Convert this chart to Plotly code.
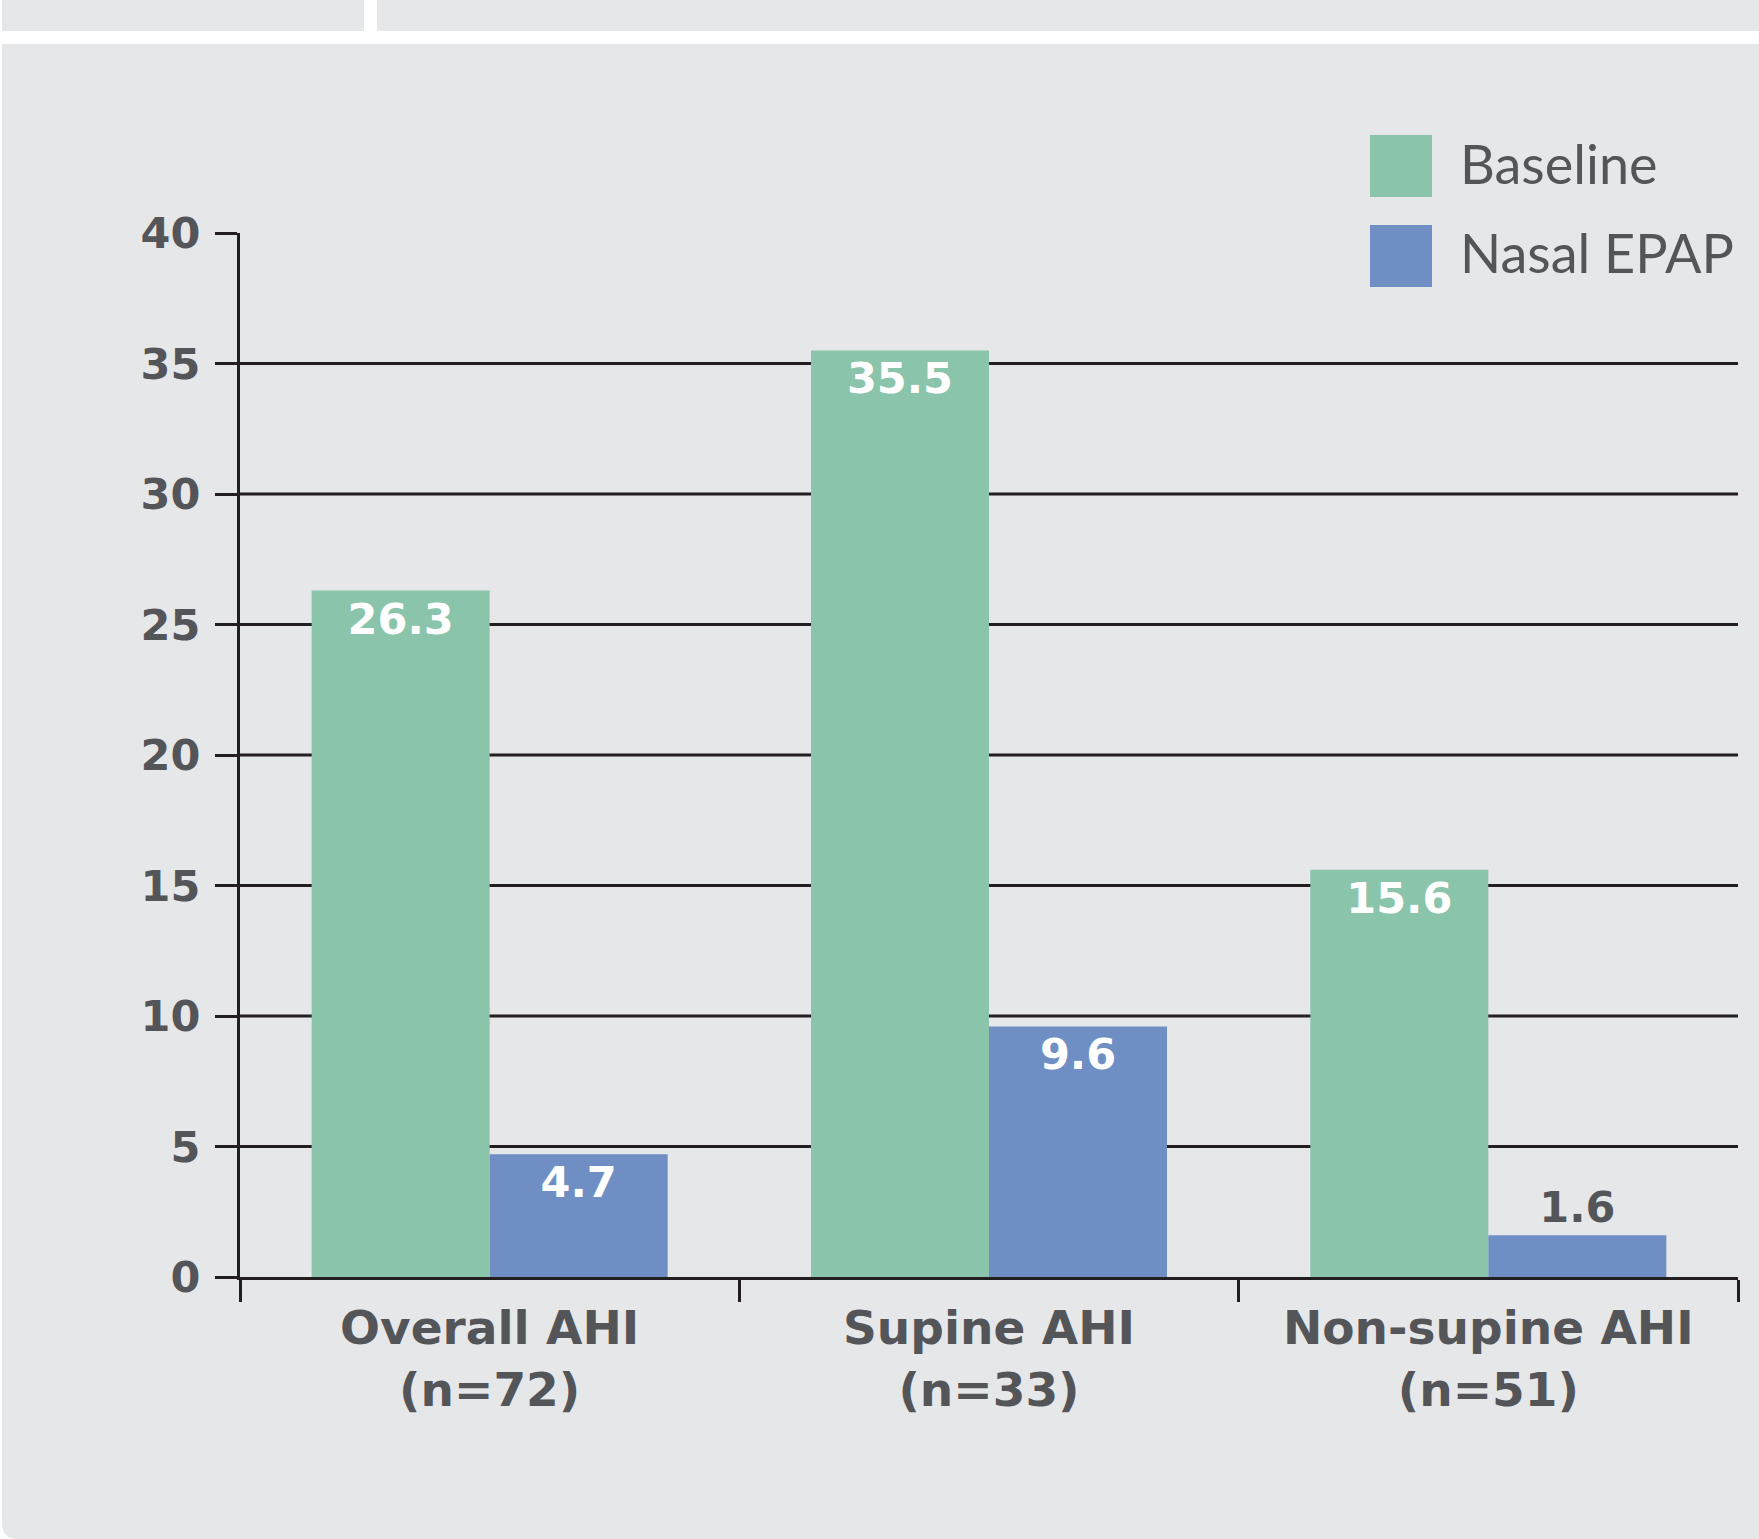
import plotly.graph_objects as go

# ---- data ----
categories = ["Overall AHI<br>(n=72)", "Supine AHI<br>(n=33)", "Non-supine AHI<br>(n=51)"]
baseline = [26.3, 35.5, 15.6]
nasal_epap = [4.7, 9.6, 1.6]
series_names = ["Baseline", "Nasal EPAP"]
y_ticks = [0, 5, 10, 15, 20, 25, 30, 35, 40]

# ---- style ----
W, H = 1759, 1539
GREEN = "#8AC4AB"
BLUE = "#6F8FC4"
PANEL = "#E6E7E9"
TEXT = "#545559"
INK = "#231F20"
BOLD = "DejaVu Sans"
LIGHT = "Lato"


def px(x):
    return x / W


def py(y):
    return 1 - y / H


fig = go.Figure()

label_font_in = dict(family=BOLD, size=43, color="white", weight="bold")
label_font_out = dict(family=BOLD, size=43, color=TEXT, weight="bold")

fig.add_trace(go.Bar(
    x=categories, y=baseline, name=series_names[0],
    marker=dict(color=GREEN, line=dict(width=0)),
    text=[f"{v:.1f}" for v in baseline],
    textposition="inside", insidetextanchor="end", textangle=0,
    insidetextfont=label_font_in, outsidetextfont=label_font_out,
    constraintext="none", cliponaxis=False, showlegend=False,
))
fig.add_trace(go.Bar(
    x=categories, y=nasal_epap, name=series_names[1],
    marker=dict(color=BLUE, line=dict(width=0)),
    text=[f"{v:.1f}" for v in nasal_epap],
    textposition=["inside" if v > 3 else "outside" for v in nasal_epap],
    insidetextanchor="end", textangle=0,
    insidetextfont=label_font_in, outsidetextfont=label_font_out,
    constraintext="none", cliponaxis=False, showlegend=False,
))

shapes = []
# page background panels
shapes.append(dict(type="rect", xref="paper", yref="paper", layer="below",
                   x0=px(2), x1=px(364), y0=py(31), y1=py(0),
                   fillcolor=PANEL, line=dict(width=0)))
shapes.append(dict(type="rect", xref="paper", yref="paper", layer="below",
                   x0=px(377), x1=px(W), y0=py(31), y1=py(0),
                   fillcolor=PANEL, line=dict(width=0)))
r = 16
panel_path = (f"M {px(2)},{py(44)} L {px(W)},{py(44)} L {px(W)},{py(H)} "
              f"L {px(2 + r)},{py(H)} Q {px(2)},{py(H)} {px(2)},{py(H - r)} Z")
shapes.append(dict(type="path", xref="paper", yref="paper", layer="below",
                   path=panel_path, fillcolor=PANEL, line=dict(width=0)))

# horizontal gridlines (none at the top value)
for v in y_ticks[1:-1]:
    shapes.append(dict(type="line", xref="x domain", yref="y", layer="below",
                       x0=0, x1=1, y0=v, y1=v,
                       line=dict(color=INK, width=3)))

# legend swatches
legend_colors = [GREEN, BLUE]
legend_tops = [135, 225]
annotations = []
for name, col, top in zip(series_names, legend_colors, legend_tops):
    shapes.append(dict(type="rect", xref="paper", yref="paper",
                       x0=px(1370), x1=px(1432), y0=py(top + 62), y1=py(top),
                       fillcolor=col, line=dict(width=0)))
    annotations.append(dict(xref="paper", yref="paper", x=px(1458), y=py(top + 28),
                            text=name, showarrow=False, xanchor="left", yanchor="middle",
                            font=dict(family=LIGHT, size=54, color=TEXT)))

fig.update_layout(
    width=W, height=H, autosize=False,
    margin=dict(l=0, r=0, t=0, b=0, pad=0, autoexpand=False),
    paper_bgcolor="white", plot_bgcolor="rgba(0,0,0,0)",
    barmode="group", bargap=0.287, bargroupgap=0,
    shapes=shapes, annotations=annotations,
    xaxis=dict(
        domain=[px(240), px(1738)], type="category", automargin=False,
        showline=True, linecolor=INK, linewidth=3,
        ticks="outside", tickson="boundaries", ticklen=22, tickwidth=3, tickcolor=INK,
        showgrid=False, zeroline=False, ticklabelstandoff=8,
        tickfont=dict(family=BOLD, size=47, color=TEXT, weight="bold"),
    ),
    yaxis=dict(
        domain=[py(1277), py(233)], range=[0, 40], automargin=False,
        tickvals=y_ticks, ticktext=[str(v) for v in y_ticks],
        showline=True, linecolor=INK, linewidth=3,
        ticks="outside", ticklen=22, tickwidth=3, tickcolor=INK,
        showgrid=False, zeroline=False, ticklabelstandoff=6,
        tickfont=dict(family=BOLD, size=43, color=TEXT, weight="bold"),
    ),
    showlegend=False,
)

fig.write_html("out.html")
